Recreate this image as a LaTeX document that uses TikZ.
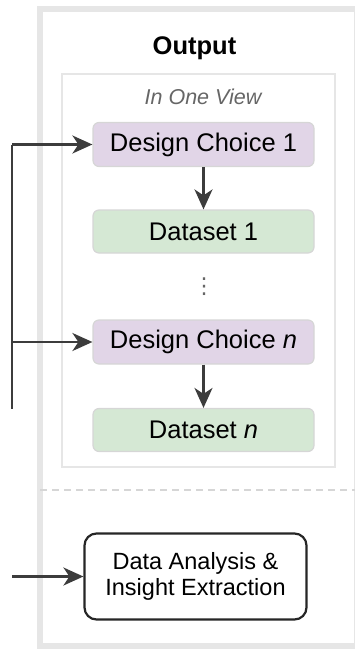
\documentclass[tikz,border=0pt]{standalone}
\usepackage{fontspec}
\setmainfont{Liberation Sans}
\newfontfamily\symfont{DejaVu Sans}
\usepackage{tikz}
\usetikzlibrary{arrows.meta, positioning}
\definecolor{framegray}{RGB}{230, 230, 230}
\definecolor{edgegray}{RGB}{214, 214, 214}
\definecolor{linkgray}{RGB}{60, 60, 60}
\definecolor{choicepurple}{RGB}{225, 213, 231}
\definecolor{datagreen}{RGB}{213, 232, 212}

\begin{document}
\begin{tikzpicture}[x=1pt, y=-1pt,
  boxfont/.style={font=\fontsize{25.5}{30}\selectfont},
  choice/.style={draw=edgegray, fill=choicepurple, line width=1.2pt, rounded corners=6pt, minimum width=221pt, minimum height=44pt, inner sep=0pt, boxfont},
  dataset/.style={draw=edgegray, fill=datagreen, line width=1.2pt, rounded corners=6pt, minimum width=221pt, minimum height=43pt, inner sep=0pt, boxfont},
  link/.style={draw=linkgray, line width=2.2pt, -{Stealth[length=20pt, width=18pt, inset=6pt]}}]
  \useasboundingbox (0,0) rectangle (355,651);
  % frames
  \draw[framegray, line width=6pt] (40,9) rectangle (357,646);
  \draw[framegray, line width=1.8pt] (62,74) rectangle (335,467);
  \draw[edgegray, line width=1.5pt, dash pattern=on 7pt off 5pt] (40,490) -- (357,490);

  \node (title) at (194.5,48) {\fontsize{25.5}{30}\selectfont\bfseries Output};
  \node[text=black!60] (view) at (203,97) {\fontsize{21.5}{26}\selectfont\itshape In One View};

  \node[choice] (dc1) at (203.5,144.5) {Design Choice 1};
  \node[dataset] (ds1) at (203.5,231.5) {Dataset 1};
  \node[text=black!60, inner sep=0pt] (dots) at (204,287) {\symfont\fontsize{22}{22}\selectfont ⋮};
  \node[choice] (dcn) at (203.5,342) {Design Choice \textit{n}};
  \node[dataset] (dsn) at (203.5,430) {Dataset \textit{n}};

  \node[draw=black!85, line width=2.2pt, rounded corners=12pt, fill=white, minimum width=222pt, minimum height=86pt, align=center, font=\fontsize{23.5}{26}\selectfont] (analysis) at (195.5,576.5) {Data Analysis \&\\Insight Extraction};

  % feed lines
  \coordinate (feedtop) at (12,144.5);
  \coordinate (feedmid) at (12,342);
  \coordinate (feedend) at (12,409);
  \coordinate (feedlow) at (12,576.5);
  \draw[linkgray, line width=2pt] (feedtop) -- (feedend);
  \draw[link] (feedtop) -- (dc1.west);
  \draw[link] (feedmid) -- (dcn.west);
  \draw[link] (feedlow) -- (analysis.west);
  \draw[link] (dc1) -- (ds1);
  \draw[link] (dcn) -- (dsn);
\end{tikzpicture}
\end{document}
